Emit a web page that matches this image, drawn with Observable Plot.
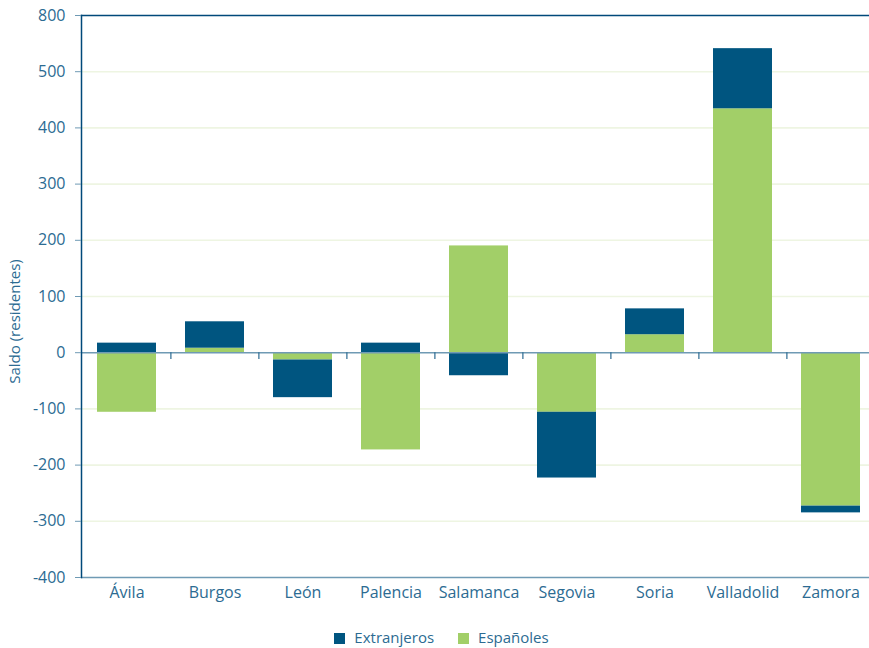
<!DOCTYPE html>
<html>
<head>
<meta charset="utf-8">
<script src="https://cdn.jsdelivr.net/npm/d3@7"></script>
<script src="https://cdn.jsdelivr.net/npm/@observablehq/plot@0.6"></script>
<style>
  html, body { margin: 0; padding: 0; background: #fff; overflow: hidden; }
  #chart svg { overflow: visible; }
  #legend { display: flex; justify-content: center; align-items: center; gap: 24px;
    font-family: "Open Sans", sans-serif; font-size: 15px; color: #2c6b92; height: 38px; margin-left: 14px; padding-top: 8px; }
  #legend span.sw { display: inline-block; width: 11px; height: 11px; margin-right: 9px; vertical-align: -1px; }
</style>
</head>
<body>
<div id="chart"></div>
<div id="legend"></div>
<script>
const provincias = ["Ávila", "Burgos", "León", "Palencia", "Salamanca", "Segovia", "Soria", "Valladolid", "Zamora"];
const espanoles   = [-106, 8, -13, -173, 190, -106, 32, 434, -273];
const extranjeros = [17, 47, -67, 17, -41, -117, 46, 107, -12];
const series = ["Extranjeros", "Españoles"];
const colors = ["#005580", "#a2cf68"];
const yTickValues = [-400, -300, -200, -100, 0, 100, 200, 300, 400, 500, 600];
const yTickLabels = ["-400", "-300", "-200", "-100", "0", "100", "200", "300", "400", "500", "800"];
const yLabel = "Saldo (residentes)";

const rows = [];
provincias.forEach((p, i) => {
  rows.push({provincia: p, grupo: "Españoles", valor: espanoles[i]});
  rows.push({provincia: p, grupo: "Extranjeros", valor: extranjeros[i]});
});

const W = 869, H = 610, ML = 81, MR = -6, MT = 15, MB = 33;
const step = (W - ML - MR) / provincias.length;
const textColor = "#2c6b92";
const gridY = yTickValues.filter(v => v > -400 && v < 600 && v !== 0);

const chart = Plot.plot({
  width: W, height: H,
  marginLeft: ML, marginRight: MR, marginTop: MT, marginBottom: MB,
  style: {fontFamily: "Open Sans, sans-serif", fontSize: "15px", color: textColor, background: "#fff"},
  x: {domain: provincias, paddingInner: 0.33, paddingOuter: 0.165, label: null},
  y: {domain: [-400, 600], label: null},
  color: {domain: series, range: colors},
  marks: [
    Plot.ruleY(gridY, {stroke: "#eef5e2", strokeWidth: 1.6}),
    Plot.barY(rows, Plot.stackY({x: "provincia", y: "valor", fill: "grupo", order: ["Españoles", "Extranjeros"]})),
    Plot.ruleY([0], {stroke: "#6f9ab4", strokeWidth: 1.6}),
    Plot.ruleX(provincias.slice(1), {x: d => d, y1: 0, y2: -12, dx: -step / 2, stroke: "#2c6b92", strokeWidth: 1.2}),
    Plot.ruleY([-400], {stroke: "#6f9ab4", strokeWidth: 1.6}),
    Plot.frame({anchor: "top", stroke: "#00497a", strokeWidth: 1.5}),
    Plot.frame({anchor: "left", stroke: "#00497a", strokeWidth: 1.5}),
    Plot.axisY({ticks: yTickValues, tickFormat: (d) => yTickLabels[yTickValues.indexOf(d)], tickSize: 6, tickPadding: 10,
      stroke: "#6f9ab4", fill: textColor, fontSize: 16, label: null}),
    Plot.axisX({tickSize: 0, tickPadding: 9, fill: textColor, fontSize: 16, label: null}),
    Plot.text([yLabel], {frameAnchor: "left", textAnchor: "middle", dx: -66, dy: 25, rotate: -90, fill: textColor, fontSize: 15})
  ]
});
document.getElementById("chart").appendChild(chart);

const legend = document.getElementById("legend");
series.forEach((s, i) => {
  const item = document.createElement("div");
  item.innerHTML = `<span class="sw" style="background:${colors[i]}"></span>${s}`;
  legend.appendChild(item);
});
</script>
</body>
</html>
